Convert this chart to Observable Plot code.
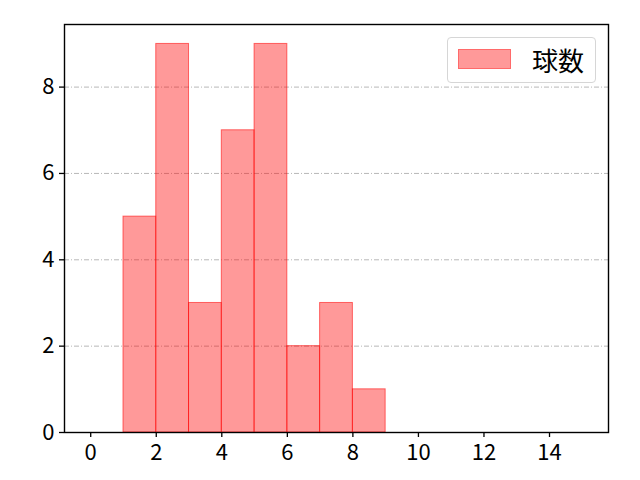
<!DOCTYPE html>
<html>
<head>
<meta charset="utf-8">
<script src="https://cdn.jsdelivr.net/npm/d3@7"></script>
<script src="https://cdn.jsdelivr.net/npm/@observablehq/plot@0.6"></script>
<style>
  html, body { margin: 0; padding: 0; background: #fff; }
  #wrap { position: relative; width: 640px; height: 480px; font-family: "Noto Sans CJK JP", "DejaVu Sans", sans-serif; }
  #legend { position: absolute; left: 447px; top: 37px; width: 149px; height: 46px; box-sizing: border-box;
            border: 1px solid #d6d6d6; border-radius: 4px; background: rgba(255,255,255,0.8); }
  #legend .sw { position: absolute; left: 10px; top: 11px; width: 53px; height: 20px; box-sizing: border-box;
                background: rgba(255,0,0,0.4); border: 1px solid rgba(255,0,0,0.3); }
  #legend .lb { position: absolute; left: 84px; top: 5px; font-size: 26px; line-height: 34px; color: #000; }
</style>
</head>
<body>
<div id="wrap"></div>
<script>
const seriesName = "球数";
const binEdges = [1, 2, 3, 4, 5, 6, 7, 8, 9];
const counts = [5, 9, 3, 7, 9, 2, 3, 1];
const xTicks = [0, 2, 4, 6, 8, 10, 12, 14];
const yTicks = [0, 2, 4, 6, 8];
const gridValues = [2, 4, 6, 8];

const bins = counts.map((c, i) => ({x1: binEdges[i], x2: binEdges[i + 1], count: c}));

const chart = Plot.plot({
  width: 640,
  height: 480,
  marginLeft: 64,
  marginRight: 32,
  marginTop: 24,
  marginBottom: 48,
  style: {fontFamily: '"Noto Sans CJK JP", "DejaVu Sans", sans-serif', fontSize: "22px", color: "#000", background: "#fff"},
  x: {domain: [-0.8, 15.8]},
  y: {domain: [0, 9.45]},
  marks: [
    Plot.ruleY(gridValues, {stroke: "#b0b0b0", strokeWidth: 0.9, strokeDasharray: "5,2,1,2"}),
    Plot.rectY(bins, {x1: "x1", x2: "x2", y: "count", fill: "#ff0000", fillOpacity: 0.4, stroke: "#ff0000", strokeOpacity: 0.55, strokeWidth: 1, insetLeft: 0, insetRight: 0}),
    Plot.frame({stroke: "#000", strokeWidth: 1.4}),
    Plot.axisX({ticks: xTicks, tickSize: 5, tickPadding: 7, tickFormat: d => String(d), label: null, fontSize: 22, stroke: "#000", strokeWidth: 1.3}),
    Plot.axisY({ticks: yTicks, tickSize: 5, tickPadding: 5, tickFormat: d => String(d), label: null, fontSize: 22, stroke: "#000", strokeWidth: 1.3})
  ]
});

const wrap = document.getElementById("wrap");
wrap.appendChild(chart);
const legend = document.createElement("div");
legend.id = "legend";
legend.innerHTML = '<div class="sw"></div><div class="lb"></div>';
legend.querySelector(".lb").textContent = seriesName;
wrap.appendChild(legend);
</script>
</body>
</html>
